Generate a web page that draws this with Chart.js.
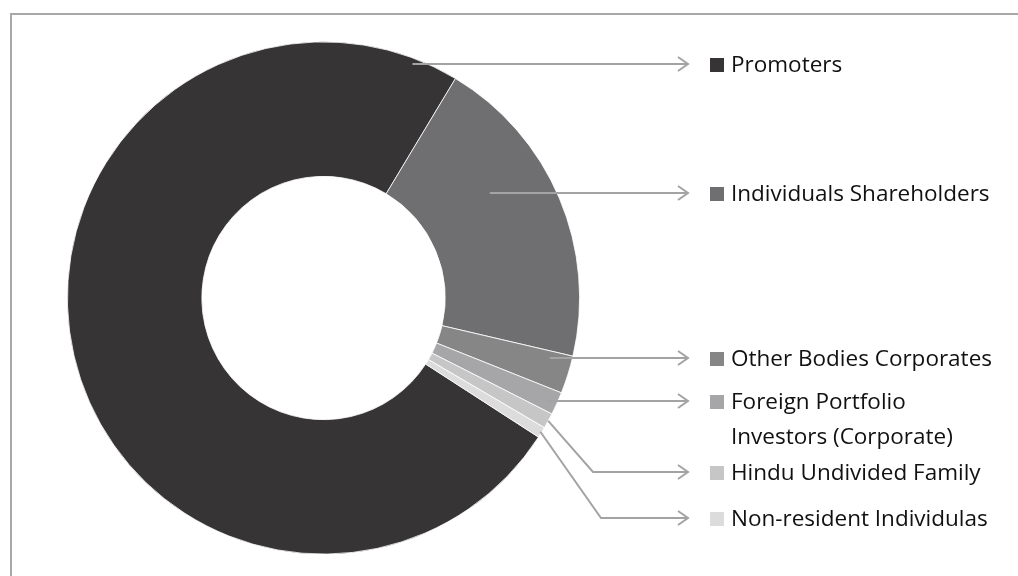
<!DOCTYPE html>
<html lang="en">
<head>
  <meta charset="UTF-8">
  <title>Shareholding Pattern</title>
  <script src="https://cdn.jsdelivr.net/npm/chart.js"></script>
  <style>
    body { margin: 0; background: #fff; }
    #wrap { width: 1018px; height: 576px; }
  </style>
</head>
<body>
  <div id="wrap"><canvas id="shareChart" width="1018" height="576"></canvas></div>
  <script>
    // Data
    const categories = ['Promoters', 'Individuals Shareholders', 'Other Bodies Corporates',
      'Foreign Portfolio Investors (Corporate)', 'Hindu Undivided Family', 'Non-resident Individulas'];
    const shares = [74.47, 20.03, 2.39, 1.44, 0.97, 0.69];
    const sliceColors = ['#363435', '#6f6f71', '#868687', '#a6a6a8', '#c6c6c7', '#dcdcdd'];

    // callout layout: t = position along the arc, rf = depth inside the ring
    const callouts = [
      { t: 0.962, rf: 0.955, y: 64,  lines: ['Promoters'] },
      { t: 0.372, rf: 0.556, y: 193, lines: ['Individuals Shareholders'] },
      { t: 0.256, rf: 0.84,  y: 358, lines: ['Other Bodies Corporates'] },
      { t: 0.62,  rf: 0.93,  y: 401, lines: ['Foreign Portfolio', 'Investors (Corporate)'] },
      { t: 0.5,   rf: 1.0,   y: 472, elbowX: 593, lines: ['Hindu Undivided Family'] },
      { t: 0.5,   rf: 0.99,  y: 518, elbowX: 601, lines: ['Non-resident Individulas'] }
    ];

    const FONT = '22.5px "Open Sans", sans-serif';
    const LINE_COL = '#a3a3a3';
    const ARROW_X = 688;

    const calloutPlugin = {
      id: 'callouts',
      beforeDraw(chart) {
        const c = chart.ctx;
        c.save();
        c.strokeStyle = '#a8a8a8';
        c.lineWidth = 2;
        c.beginPath();
        c.moveTo(11, 576);
        c.lineTo(11, 14);
        c.lineTo(1018, 14);
        c.stroke();
        c.restore();
      },
      afterDraw(chart) {
        const c = chart.ctx;
        const meta = chart.getDatasetMeta(0);
        c.save();
        c.font = FONT;
        c.textBaseline = 'alphabetic';
        meta.data.forEach((arc, i) => {
          const p = arc.getProps(['x', 'y', 'startAngle', 'endAngle', 'innerRadius', 'outerRadius'], true);
          const co = callouts[i];
          const a = p.startAngle + (p.endAngle - p.startAngle) * co.t;
          const r = p.innerRadius + (p.outerRadius - p.innerRadius) * co.rf;
          const ax = p.x + r * Math.cos(a);
          const ay = p.y + r * Math.sin(a);

          c.strokeStyle = LINE_COL;
          c.lineWidth = 2;
          c.beginPath();
          if (co.elbowX) {
            c.moveTo(ax, ay);
            c.lineTo(co.elbowX, co.y);
          } else {
            c.moveTo(ax, co.y);
          }
          c.lineTo(ARROW_X, co.y);
          c.stroke();
          // arrow head
          c.beginPath();
          c.moveTo(ARROW_X - 10, co.y - 7);
          c.lineTo(ARROW_X, co.y);
          c.lineTo(ARROW_X - 10, co.y + 7);
          c.stroke();

          // marker + text
          c.fillStyle = sliceColors[i];
          c.fillRect(710, co.y - 6, 14, 14);
          c.fillStyle = '#111111';
          co.lines.forEach((ln, k) => c.fillText(ln, 731, co.y + 8 + k * 35));
        });
        c.restore();
      }
    };

    new Chart(document.getElementById('shareChart'), {
      type: 'doughnut',
      data: {
        labels: categories,
        datasets: [{
          data: shares,
          backgroundColor: sliceColors,
          borderColor: '#ffffff',
          borderWidth: 0.8
        }]
      },
      options: {
        responsive: false,
        animation: false,
        rotation: 122.9,
        cutout: '47.5%',
        layout: { padding: { left: 67, right: 438, top: 41.5, bottom: 21.5 } },
        plugins: { legend: { display: false }, tooltip: { enabled: false } }
      },
      plugins: [calloutPlugin]
    });
  </script>
</body>
</html>
